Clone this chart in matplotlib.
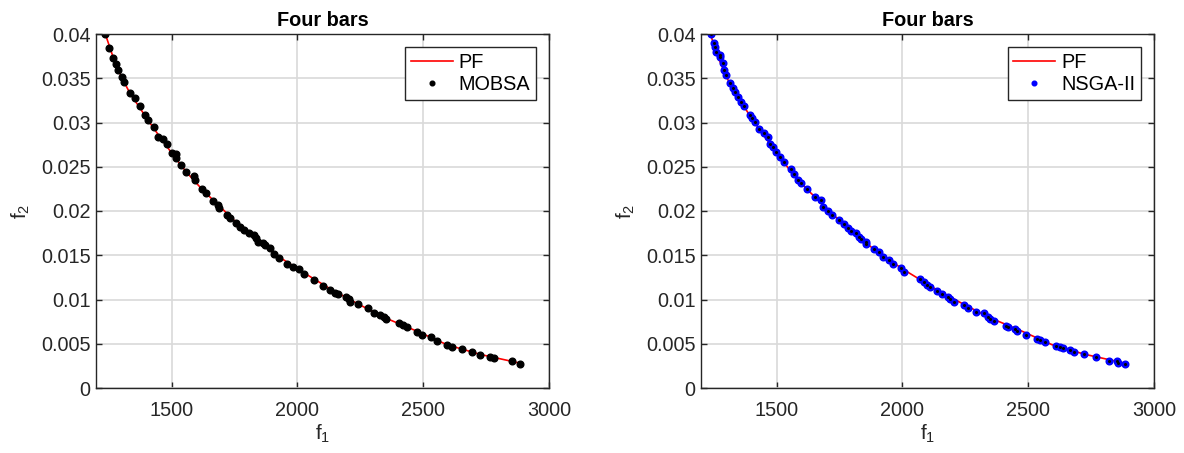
import matplotlib
matplotlib.use("Agg")
import matplotlib.pyplot as plt

plt.rcParams['font.family'] = ['Liberation Sans', 'DejaVu Sans']
plt.rcParams['mathtext.fontset'] = 'custom'
plt.rcParams['mathtext.rm'] = 'Liberation Sans'
plt.rcParams['mathtext.it'] = 'Liberation Sans'
plt.rcParams['mathtext.default'] = 'regular'

title = "Four bars"
xlabel = "f$_1$"
ylabel = "f$_2$"
xticks = [1500, 2000, 2500, 3000]
yticks = [0, 0.005, 0.01, 0.015, 0.02, 0.025, 0.03, 0.035, 0.04]
ytick_labels = ["0", "0.005", "0.01", "0.015", "0.02", "0.025", "0.03", "0.035", "0.04"]

pf_f1 = [1237, 1269, 1302, 1335, 1373, 1408, 1448, 1502, 1559, 1623, 1685,
         1758, 1836, 1928, 2027, 2131, 2241, 2351, 2477, 2594, 2726, 2886]
pf_f2 = [0.0400, 0.0373, 0.0351, 0.0333, 0.0317, 0.0302, 0.0286, 0.0265,
         0.0244, 0.0224, 0.0207, 0.0187, 0.0168, 0.0148, 0.0130, 0.0112,
         0.0095, 0.0079, 0.0064, 0.0049, 0.0038, 0.0028]

mobsa_f1 = [1237, 1253, 1269, 1280, 1289, 1302, 1311, 1335, 1354, 1373, 1395,
            1408, 1430, 1448, 1465, 1483, 1502, 1519, 1519, 1536, 1559, 1589,
            1592, 1623, 1639, 1665, 1685, 1688, 1722, 1732, 1758, 1772, 1789,
            1809, 1828, 1836, 1845, 1862, 1871, 1891, 1907, 1928, 1960, 1982,
            2007, 2027, 2067, 2101, 2131, 2148, 2161, 2195, 2204, 2211, 2241,
            2280, 2306, 2330, 2346, 2351, 2403, 2421, 2437, 2477, 2497, 2530,
            2553, 2594, 2616, 2656, 2693, 2726, 2766, 2780, 2853, 2886]
mobsa_f2 = [0.0400, 0.03845, 0.03725, 0.0366, 0.0359, 0.0351, 0.0346, 0.03337,
            0.03273, 0.03186, 0.03085, 0.03028, 0.02953, 0.0284, 0.02817,
            0.02754, 0.02652, 0.02644, 0.02595, 0.02516, 0.02437, 0.02395,
            0.0235, 0.02245, 0.0220, 0.02116, 0.02068, 0.02037, 0.01955,
            0.01917, 0.0186, 0.01823, 0.01785, 0.01748, 0.01729, 0.01692,
            0.01653, 0.01635, 0.01616, 0.01579, 0.01514, 0.01466, 0.01401,
            0.01371, 0.01341, 0.01290, 0.0122, 0.01153, 0.01107, 0.01077,
            0.01062, 0.01032, 0.01002, 0.00975, 0.00949, 0.00901, 0.00844,
            0.00821, 0.00806, 0.00776, 0.00738, 0.00712, 0.00686, 0.00636,
            0.00599, 0.00573, 0.00534, 0.00486, 0.00467, 0.00437, 0.0041,
            0.00373, 0.00354, 0.00342, 0.00308, 0.00275]

nsga_f1 = [1240, 1250, 1257, 1261, 1274, 1277, 1286, 1293, 1301, 1317, 1327,
           1336, 1347, 1359, 1372, 1393, 1403, 1413, 1432, 1452, 1465, 1476,
           1487, 1499, 1513, 1528, 1559, 1571, 1586, 1598, 1622, 1651, 1675,
           1685, 1705, 1721, 1747, 1767, 1783, 1798, 1814, 1827, 1836, 1854,
           1857, 1889, 1906, 1923, 1946, 1963, 1995, 2008, 2072, 2087, 2098,
           2111, 2138, 2158, 2182, 2191, 2207, 2247, 2260, 2293, 2323, 2339,
           2350, 2366, 2410, 2419, 2446, 2454, 2492, 2536, 2549, 2565, 2611,
           2626, 2639, 2666, 2682, 2721, 2768, 2821, 2854, 2857, 2886]
nsga_f2 = [0.0400, 0.0390, 0.03857, 0.0380, 0.03763, 0.03737, 0.03669,
           0.03593, 0.03537, 0.0345, 0.03386, 0.03348, 0.03292, 0.03235,
           0.03186, 0.03085, 0.03047, 0.03009, 0.02927, 0.02878, 0.02833,
           0.02757, 0.02727, 0.0267, 0.02614, 0.02557, 0.02471, 0.02418,
           0.0235, 0.0232, 0.02245, 0.02162, 0.02124, 0.02049, 0.02003,
           0.01955, 0.01898, 0.01853, 0.01805, 0.01778, 0.01748, 0.0171,
           0.01684, 0.01653, 0.01627, 0.01567, 0.01533, 0.01484, 0.01446,
           0.01401, 0.01353, 0.01314, 0.01228, 0.01201, 0.01164, 0.01138,
           0.0110, 0.01062, 0.01025, 0.01002, 0.00975, 0.00938, 0.00901,
           0.00855, 0.00844, 0.00806, 0.00776, 0.0076, 0.00701, 0.00693,
           0.00663, 0.00644, 0.00599, 0.00554, 0.00542, 0.00523, 0.00478,
           0.00467, 0.00449, 0.00429, 0.0041, 0.00384, 0.00347, 0.00308,
           0.00308, 0.00286, 0.00275]

W, H = 1184, 453
fig = plt.figure(figsize=(W / 100, H / 100), dpi=100)

axc = '#262626'
fs = 14.3


def style(ax):
    ax.set_xlim(1200, 3000)
    ax.set_ylim(0, 0.04)
    ax.set_xticks(xticks)
    ax.set_xticklabels([str(t) for t in xticks])
    ax.set_yticks(yticks)
    ax.set_yticklabels(ytick_labels)
    ax.grid(True, color='#d9d9d9', linewidth=1.2)
    ax.set_axisbelow(True)
    for s in ax.spines.values():
        s.set_color(axc)
        s.set_linewidth(1.0)
    ax.tick_params(direction='in', top=True, right=True, length=4,
                   width=1.0, color=axc, labelcolor=axc, labelsize=fs)
    ax.tick_params(axis='x', pad=9)
    ax.tick_params(axis='y', pad=4)
    ax.set_title(title, fontsize=fs, fontweight='bold', pad=6)
    ax.set_xlabel(xlabel, fontsize=15, color=axc, labelpad=2)
    ax.set_ylabel(ylabel, fontsize=15, color=axc, labelpad=6)


ax1 = fig.add_axes([96 / W, 1 - 388 / H, 453 / W, 354 / H])
ax1.plot(pf_f1, pf_f2, color='red', linewidth=1.2, label='PF')
ax1.plot(mobsa_f1, mobsa_f2, linestyle='none', marker='o', markersize=4.8,
         color='black', label='MOBSA')
style(ax1)

ax2 = fig.add_axes([701 / W, 1 - 388 / H, 453 / W, 354 / H])
ax2.plot(pf_f1, pf_f2, color='red', linewidth=1.2, label='PF')
ax2.plot(nsga_f1, nsga_f2, linestyle='none', marker='o', markersize=4.8,
         color='blue', label='NSGA-II')
ax2.plot(nsga_f1, nsga_f2, linestyle='none', marker='o', markersize=1.2,
         color='black')
style(ax2)

for ax in (ax1, ax2):
    leg = ax.legend(loc='upper right', fontsize=fs, frameon=True, fancybox=False,
                    edgecolor=axc, framealpha=1, borderaxespad=0.65,
                    handlelength=2.1, handletextpad=0.3, borderpad=0.3,
                    labelspacing=0.15, markerscale=0.7)
    leg.get_frame().set_linewidth(1.0)

fig.savefig('out.png', dpi=100)
